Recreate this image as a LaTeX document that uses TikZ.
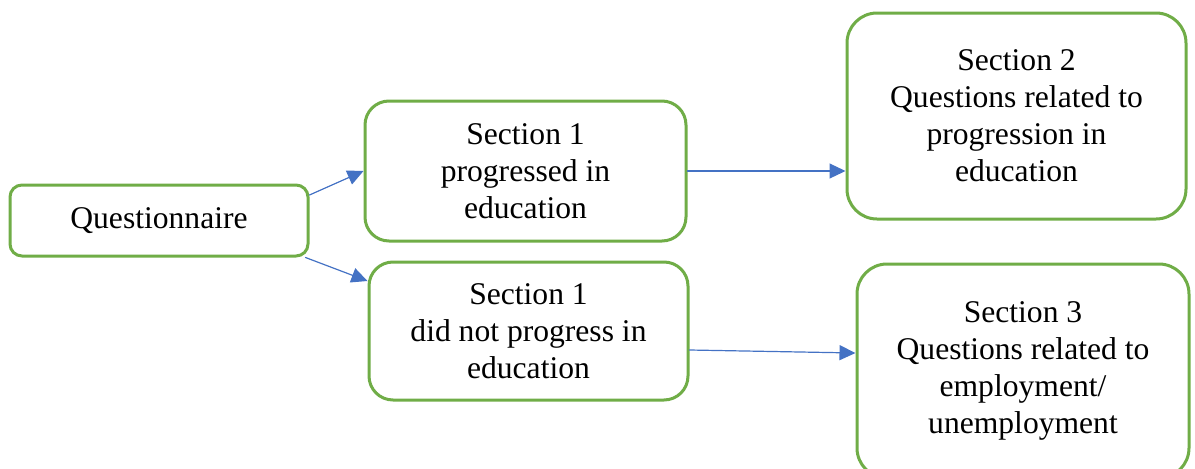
\documentclass[tikz,border=0pt]{standalone}
\usepackage{fontspec}
\setmainfont{Liberation Serif}
\usetikzlibrary{arrows.meta}
\definecolor{boxgreen}{HTML}{70AD47}
\definecolor{linkblue}{HTML}{4472C4}
\tikzset{
  sbox/.style={draw=boxgreen,line width=1.5pt,rounded corners=#1,fill=white,
    align=center,inner sep=2pt,font=\fontsize{15.8}{18.5}\selectfont},
  sbox/.default=12pt,
  link/.style={draw=linkblue,line width=0.6pt,-{Triangle[length=8pt,width=7.5pt]}}
}
\begin{document}
\begin{tikzpicture}[line cap=round,line join=round,x=0.5pt,y=0.5pt]
			\useasboundingbox (0,0) rectangle (1195,468);
			\node[sbox=6pt,minimum width=149pt,minimum height=35.5pt] (quest) at (159,247.5) {Questionnaire};
			\node[sbox,minimum width=160.5pt,minimum height=70pt] (secA) at (525.5,297) {Section 1\\progressed in\\education};
			\node[sbox,minimum width=159.5pt,minimum height=69pt] (secB) at (528.5,137) {Section 1\\did not progress in\\education};
			\node[sbox=15pt,minimum width=169.5pt,minimum height=103pt] (secTwo) at (1016.5,352) {Section 2\\Questions related to\\progression in\\education};
			\node[sbox=15pt,minimum width=166pt,minimum height=107pt] (secThree) at (1023,97) {Section 3\\Questions related to\\employment/\\unemployment};
			% links
			\draw[link] ([yshift=12.75pt]quest.east) -- (secA.west);
			\draw[link] ([xshift=-2pt]quest.south east) -- ([yshift=25pt]secB.west);
			\draw[link] (secA.east) -- (secA.east -| secTwo.west);
			\draw[link] ([yshift=-9.5pt]secB.east) -- ([yshift=9pt]secThree.west);
		\end{tikzpicture}
\end{document}
